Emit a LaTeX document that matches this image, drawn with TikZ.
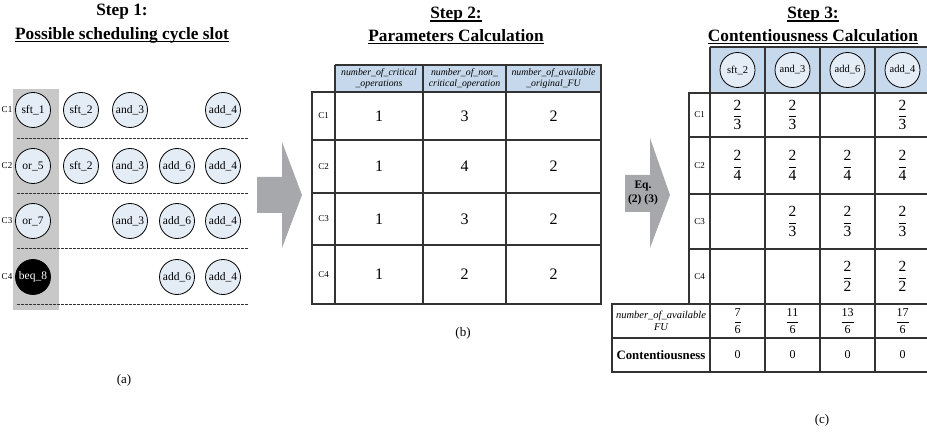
\documentclass[tikz,border=0pt]{standalone}
\usepackage{fontspec}
\usepackage{amsmath}
\setmainfont{Liberation Serif}
\definecolor{opfill}{HTML}{E4ECF6}
\definecolor{hdrfill}{HTML}{C6D9EC}
\definecolor{slotgray}{HTML}{C8C8C8}
\definecolor{arrowgray}{HTML}{A7A8AB}
\definecolor{tabline}{HTML}{333333}
\newcommand{\fr}[2]{$\dfrac{\text{#1}}{\text{#2}}$}
% heavier underline for the step titles
\newcommand{\thickul}[1]{\setbox0\hbox{#1}\rlap{\rule[-2.8pt]{\wd0}{1.3pt}}\box0}
\begin{document}
\begin{tikzpicture}[x=1pt,y=-1pt,
  title/.style={font=\fontsize{17.3}{20}\selectfont\bfseries, align=center, inner sep=0pt},
  op/.style={circle, draw=black, line width=0.8pt, fill=opfill, minimum size=35pt,
    inner sep=0pt, font=\fontsize{11.5}{12}\selectfont},
  hop/.style={op, minimum size=35pt, font=\fontsize{10.5}{11}\selectfont},
  critop/.style={op, fill=black, text=white},
  cyc/.style={font=\fontsize{9}{10}\selectfont, inner sep=0pt},
  grid/.style={draw=tabline, line width=1.1pt},
  slotline/.style={draw=tabline, line width=0.8pt, dash pattern=on 2.6pt off 1.4pt},
  val/.style={font=\fontsize{16}{18}\selectfont, inner sep=0pt},
  fracval/.style={font=\fontsize{15.5}{17}\selectfont, inner sep=0pt},
  smallfrac/.style={font=\fontsize{12}{13}\selectfont, inner sep=0pt},
  zero/.style={font=\fontsize{12}{14}\selectfont, inner sep=0pt},
  hdr/.style={font=\fontsize{9.8}{11}\selectfont\itshape, align=center, inner sep=0pt},
  sublabel/.style={font=\fontsize{13}{15}\selectfont, inner sep=0pt},
  blockarrow/.style={fill=arrowgray, draw=none}]
\useasboundingbox (0,0) rectangle (927,433);

% ---------------- titles ----------------
\node[title] (t1a) at (122,12) {Step 1:};
\node[title] (t1b) at (122,35) {\thickul{Possible scheduling cycle slot}};
\node[title] (t2a) at (456,15) {\thickul{Step 2:}};
\node[title] (t2b) at (456,37) {\thickul{Parameters Calculation}};
\node[title] (t3a) at (813,15) {\thickul{Step 3:}};
\node[title] (t3b) at (813,37) {\thickul{Contentiousness Calculation}};

% ---------------- (a) scheduling slots ----------------
\fill[slotgray] (13,89) rectangle (59,310);
\foreach \y in {138,193,248,304}
  \draw[slotline] (17,\y) -- (248,\y);

\foreach \c/\y in {1/110,2/166,3/221,4/277}
  \node[cyc] (ac\c) at (7,\y) {C\c};

\node[op] (a11) at (33,110) {sft\_1};
\node[op] (a12) at (81,110) {sft\_2};
\node[op] (a13) at (130,110) {and\_3};
\node[op] (a15) at (223,110) {add\_4};

\node[op] (a21) at (33,166) {or\_5};
\node[op] (a22) at (81,166) {sft\_2};
\node[op] (a23) at (130,166) {and\_3};
\node[op] (a24) at (177,166) {add\_6};
\node[op] (a25) at (223,166) {add\_4};

\node[op] (a31) at (33,221) {or\_7};
\node[op] (a33) at (130,221) {and\_3};
\node[op] (a34) at (177,221) {add\_6};
\node[op] (a35) at (223,221) {add\_4};

\node[critop] (a41) at (33,277) {beq\_8};
\node[op] (a44) at (177,277) {add\_6};
\node[op] (a45) at (223,277) {add\_4};

\node[sublabel] (la) at (124,380) {(a)};

% ---------------- arrows between steps ----------------
\path[blockarrow] (257,177) -- (282,177) -- (282,142) -- (302,195)
  -- (282,248) -- (282,213) -- (257,213) -- cycle;
\path[blockarrow] (625,175) -- (650,175) -- (650,138) -- (670,195)
  -- (650,248) -- (650,212) -- (625,212) -- cycle;
\node[font=\fontsize{11.5}{13.5}\selectfont\bfseries, align=center, inner sep=0pt]
  (eq) at (643,193) {Eq.\\(2) (3)};

% ---------------- (b) parameters table ----------------
\fill[hdrfill] (335,65) rectangle (601,92);
\draw[grid] (335,65) -- (601,65) -- (601,304) -- (312,304) -- (312,92) -- (601,92);
\foreach \x in {335,423,506}
  \draw[grid] (\x,65) -- (\x,304);
\foreach \y in {140,193,245}
  \draw[grid] (312,\y) -- (601,\y);

\node[hdr] (bh1) at (379,78.5) {number\_of\_critical\\\_operations};
\node[hdr] (bh2) at (464.5,78.5) {number\_of\_non\_\\critical\_operation};
\node[hdr] (bh3) at (553.5,78.5) {number\_of\_available\\\_original\_FU};

\foreach \c/\y/\p/\q/\r in {1/116/1/3/2, 2/166.5/1/4/2, 3/219/1/3/2, 4/274.5/1/2/2} {
  \node[cyc] (bc\c) at (323.5,\y) {C\c};
  \node[val] (bv\c a) at (379,\y) {\p};
  \node[val] (bv\c b) at (464.5,\y) {\q};
  \node[val] (bv\c c) at (553.5,\y) {\r};
}
\node[sublabel] (lb) at (463,333) {(b)};

% ---------------- (c) contentiousness table ----------------
\fill[hdrfill] (710,47) rectangle (930,93);
\draw[grid] (710,47) -- (930,47);
\draw[grid] (689,93) rectangle (930,304);
\draw[grid] (612,304) rectangle (930,372);
\foreach \x in {710,765,820,875}
  \draw[grid] (\x,47) -- (\x,372);
\foreach \y in {137,194,249}
  \draw[grid] (689,\y) -- (930,\y);
\draw[grid] (612,338) -- (930,338);

\node[hop] (ch1) at (737.5,70) {sft\_2};
\node[hop] (ch2) at (792.5,70) {and\_3};
\node[hop] (ch3) at (847.5,70) {add\_6};
\node[hop] (ch4) at (902.5,70) {add\_4};

\foreach \c/\y in {1/115,2/165.5,3/221.5,4/276.5}
  \node[cyc] (cc\c) at (699.5,\y) {C\c};

\node[fracval] (f11) at (737.5,115) {\fr{2}{3}};
\node[fracval] (f12) at (792.5,115) {\fr{2}{3}};
\node[fracval] (f14) at (902.5,115) {\fr{2}{3}};
\node[fracval] (f21) at (737.5,165.5) {\fr{2}{4}};
\node[fracval] (f22) at (792.5,165.5) {\fr{2}{4}};
\node[fracval] (f23) at (847.5,165.5) {\fr{2}{4}};
\node[fracval] (f24) at (902.5,165.5) {\fr{2}{4}};
\node[fracval] (f32) at (792.5,221.5) {\fr{2}{3}};
\node[fracval] (f33) at (847.5,221.5) {\fr{2}{3}};
\node[fracval] (f34) at (902.5,221.5) {\fr{2}{3}};
\node[fracval] (f43) at (847.5,276.5) {\fr{2}{2}};
\node[fracval] (f44) at (902.5,276.5) {\fr{2}{2}};

\node[hdr, font=\fontsize{10.5}{11.5}\selectfont\itshape] (cfu) at (661,321) {number\_of\_available\\FU};
\node[smallfrac] (u1) at (737.5,321) {\fr{7}{6}};
\node[smallfrac] (u2) at (792.5,321) {\fr{11}{6}};
\node[smallfrac] (u3) at (847.5,321) {\fr{13}{6}};
\node[smallfrac] (u4) at (902.5,321) {\fr{17}{6}};

\node[font=\fontsize{12.8}{14}\selectfont\bfseries, inner sep=0pt] (cont) at (661,355) {Contentiousness};
\node[zero] (z1) at (737.5,355) {0};
\node[zero] (z2) at (792.5,355) {0};
\node[zero] (z3) at (847.5,355) {0};
\node[zero] (z4) at (902.5,355) {0};

\node[sublabel] (lc) at (822,420) {(c)};
\end{tikzpicture}
\end{document}
